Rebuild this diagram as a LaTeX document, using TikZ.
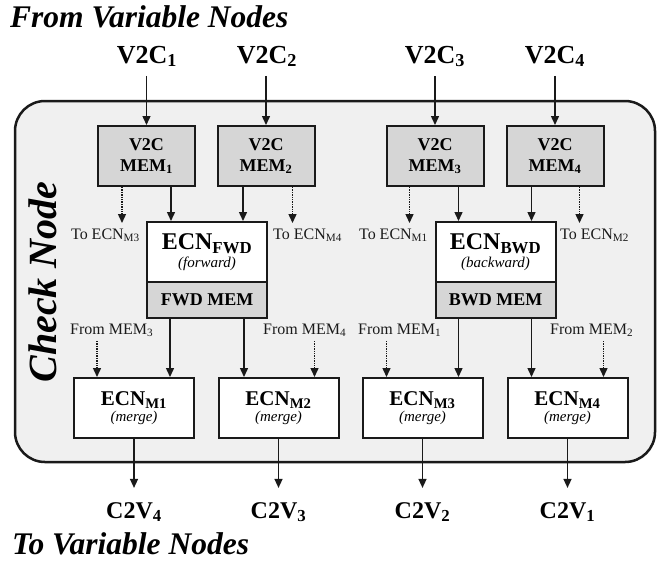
\documentclass[tikz,border=0pt]{standalone}
\usepackage{fontspec}
\setmainfont{Liberation Serif}
\usetikzlibrary{arrows.meta}
\definecolor{memgray}{HTML}{D6D6D6}
\definecolor{bggray}{HTML}{F0F0F0}
\definecolor{ink}{HTML}{1A1A1A}
\tikzset{
  membox/.style={draw=ink, line width=2pt, fill=memgray, minimum width=97pt, minimum height=60pt, inner sep=0pt, align=center, font=\fontsize{18}{21}\selectfont\bfseries},
  ecnbox/.style={draw=ink, line width=2pt, fill=white, minimum width=120pt, minimum height=60pt, inner sep=0pt, align=center, font=\fontsize{15}{17.5}\selectfont},
  ecnmem/.style={draw=ink, line width=2pt, fill=memgray, minimum width=120pt, minimum height=36pt, inner sep=0pt, font=\fontsize{18}{21}\selectfont\bfseries},
  mbox/.style={draw=ink, line width=2pt, fill=white, minimum width=120pt, minimum height=60pt, inner sep=0pt, align=center, font=\fontsize{15}{16.5}\selectfont},
  arr/.style={draw=ink, line width=1.4pt, -{Triangle[length=9pt,width=8pt]}},
  dotarr/.style={arr, densely dotted},
  iolabel/.style={inner sep=0pt, anchor=base, font=\fontsize{26}{28}\selectfont\bfseries},
  smalllabel/.style={inner sep=0pt, font=\fontsize{16}{18}\selectfont, text=ink},
  titlelabel/.style={inner sep=0pt, anchor=base west, font=\fontsize{31.5}{33}\selectfont\bfseries\itshape},
}
\newcommand{\ecnmain}[1]{{\fontsize{24}{26}\selectfont\bfseries ECN\textsubscript{#1}}}
\newcommand{\ecnmerge}[1]{{\fontsize{21}{23}\selectfont\bfseries ECN\textsubscript{#1}}}
\newcommand{\ecnsub}[1]{{\fontsize{15}{16}\selectfont\itshape (#1)}}
\begin{document}
\begin{tikzpicture}[x=1pt,y=-1pt]
\useasboundingbox (0,0) rectangle (660,563);

% outer check node region
\node[draw=ink, line width=2.5pt, fill=bggray, rounded corners=30pt, minimum width=640pt, minimum height=361pt, inner sep=0pt] (outer) at (335,281.5) {};
\node[inner sep=0pt, anchor=base, rotate=90, font=\fontsize{40}{42}\selectfont\bfseries\itshape] (cn) at (56,282) {Check Node};

% titles
\node[titlelabel] (from) at (10,27) {From Variable Nodes};
\node[titlelabel] (to) at (12,554) {To Variable Nodes};

% inputs
\node[iolabel] (v1) at (147,63) {V2C\textsubscript{1}};
\node[iolabel] (v2) at (267,63) {V2C\textsubscript{2}};
\node[iolabel] (v3) at (435,63) {V2C\textsubscript{3}};
\node[iolabel] (v4) at (555,63) {V2C\textsubscript{4}};

% memories
\node[membox] (mem1) at (146.5,156) {V2C\\MEM\textsubscript{1}};
\node[membox] (mem2) at (266,156) {V2C\\MEM\textsubscript{2}};
\node[membox] (mem3) at (435,156) {V2C\\MEM\textsubscript{3}};
\node[membox] (mem4) at (555,156) {V2C\\MEM\textsubscript{4}};

% forward / backward ECN
\node[ecnbox] (fwd) at (207,252) {\ecnmain{FWD}\\\ecnsub{forward}};
\node[ecnmem] (fwdmem) at (207,300) {FWD MEM};
\node[ecnbox] (bwd) at (495.5,252) {\ecnmain{BWD}\\\ecnsub{backward}};
\node[ecnmem] (bwdmem) at (495.5,300) {BWD MEM};

% merge ECNs
\node[mbox] (m1) at (134,408) {\ecnmerge{M1}\\\ecnsub{merge}};
\node[mbox] (m2) at (278.5,408) {\ecnmerge{M2}\\\ecnsub{merge}};
\node[mbox] (m3) at (422.5,408) {\ecnmerge{M3}\\\ecnsub{merge}};
\node[mbox] (m4) at (567.5,408) {\ecnmerge{M4}\\\ecnsub{merge}};

% outputs
\node[iolabel, font=\fontsize{24}{26}\selectfont\bfseries] (c4) at (134,518) {C2V\textsubscript{4}};
\node[iolabel, font=\fontsize{24}{26}\selectfont\bfseries] (c3) at (278.5,518) {C2V\textsubscript{3}};
\node[iolabel, font=\fontsize{24}{26}\selectfont\bfseries] (c2) at (422.5,518) {C2V\textsubscript{2}};
\node[iolabel, font=\fontsize{24}{26}\selectfont\bfseries] (c1) at (567.5,518) {C2V\textsubscript{1}};

% side labels
\node[smalllabel, anchor=base east] (t3) at (140,239) {To ECN\textsubscript{M3}};
\node[smalllabel, anchor=base west] (t4) at (273,239) {To ECN\textsubscript{M4}};
\node[smalllabel, anchor=base east] (t1) at (428,239) {To ECN\textsubscript{M1}};
\node[smalllabel, anchor=base west] (t2) at (560,239) {To ECN\textsubscript{M2}};
\node[smalllabel, anchor=base west] (f3) at (70,334) {From MEM\textsubscript{3}};
\node[smalllabel, anchor=base west] (f4) at (263,334) {From MEM\textsubscript{4}};
\node[smalllabel, anchor=base west] (f1) at (358,334) {From MEM\textsubscript{1}};
\node[smalllabel, anchor=base west] (f2) at (550,334) {From MEM\textsubscript{2}};

% input arrows
\foreach \v/\m in {v1/mem1, v2/mem2, v3/mem3, v4/mem4}
  \draw[arr] (\m.north |- \v.south) ++(0,9) -- (\m.north);

% memory to ECN arrows
\draw[arr] ([xshift=25pt]fwd.north west |- mem1.south) -- ([xshift=25pt]fwd.north west);
\draw[arr] ([xshift=-25pt]fwd.north east |- mem2.south) -- ([xshift=-25pt]fwd.north east);
\draw[arr] ([xshift=24pt]bwd.north west |- mem3.south) -- ([xshift=24pt]bwd.north west);
\draw[arr] ([xshift=-25pt]bwd.north east |- mem4.south) -- ([xshift=-25pt]bwd.north east);

% dotted arrows from memories
\draw[dotarr] ([xshift=25pt]mem1.south west) -- ++(0,36);
\draw[dotarr] ([xshift=-23pt]mem2.south east) -- ++(0,36);
\draw[dotarr] ([xshift=24pt]mem3.south west) -- ++(0,36);
\draw[dotarr] ([xshift=-25pt]mem4.south east) -- ++(0,36);

% ECN mem to merge
\draw[arr] ([xshift=24pt]fwdmem.south west) -- ([xshift=24pt]fwdmem.south west |- m1.north);
\draw[arr] ([xshift=-24pt]fwdmem.south east) -- ([xshift=-24pt]fwdmem.south east |- m2.north);
\draw[arr] ([xshift=24pt]bwdmem.south west) -- ([xshift=24pt]bwdmem.south west |- m3.north);
\draw[arr] ([xshift=-25pt]bwdmem.south east) -- ([xshift=-25pt]bwdmem.south east |- m4.north);

% dotted into merge
\draw[dotarr] ([xshift=24pt]m1.north west) ++(0,-36) -- ([xshift=24pt]m1.north west);
\draw[dotarr] ([xshift=-25pt]m2.north east) ++(0,-36) -- ([xshift=-25pt]m2.north east);
\draw[dotarr] ([xshift=25pt]m3.north west) ++(0,-36) -- ([xshift=25pt]m3.north west);
\draw[dotarr] ([xshift=-25pt]m4.north east) ++(0,-36) -- ([xshift=-25pt]m4.north east);

% outputs
\foreach \m/\c in {m1/c4, m2/c3, m3/c2, m4/c1}
  \draw[arr, shorten >=14pt] (\m.south) -- (\c.north);
\end{tikzpicture}
\end{document}
